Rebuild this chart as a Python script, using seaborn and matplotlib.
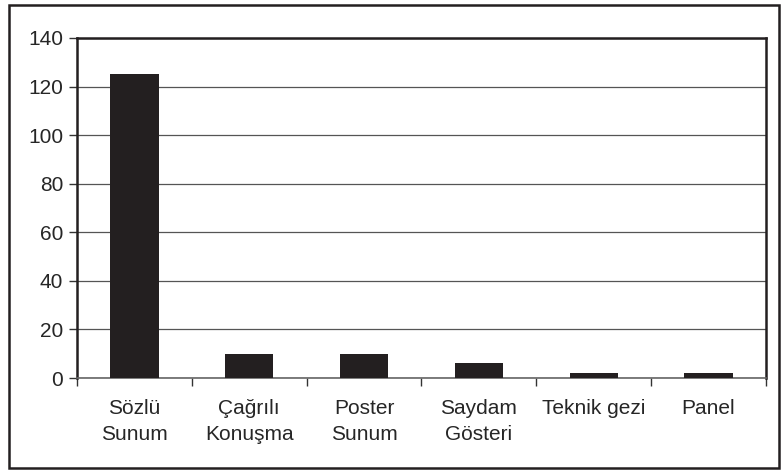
import pandas as pd
import matplotlib.pyplot as plt
import seaborn as sns
from matplotlib.patches import Rectangle

categories = ['Sözlü\nSunum', 'Çağrılı\nKonuşma', 'Poster\nSunum', 'Saydam\nGösteri', 'Teknik gezi', 'Panel']
counts = [125, 10, 10, 6, 2, 2]

df = pd.DataFrame({'category': categories, 'count': counts})

sns.set_style('white')
plt.rcParams['font.family'] = ['Liberation Sans', 'DejaVu Sans']

fig = plt.figure(figsize=(7.82, 4.73), dpi=100)
ax = fig.add_axes([0.0985, 0.2008, 0.881, 0.7189])

sns.barplot(data=df, x='category', y='count', color='#231f20', width=0.42,
            saturation=1, linewidth=0, ax=ax, zorder=3)

ax.set_ylim(0, 140)
ax.set_yticks(range(0, 141, 20))
ax.set_xlim(-0.5, len(categories) - 0.5)
ax.yaxis.grid(True, color='#555555', linewidth=0.9, zorder=0)
ax.set_xlabel('')
ax.set_ylabel('')

# ticks between categories
ax.set_xticks([i + 0.5 for i in range(-1, len(categories))], minor=True)
ax.tick_params(axis='x', which='minor', bottom=True, length=6, width=1, color='#333333', direction='out')
ax.tick_params(axis='x', which='major', bottom=True, length=0, labelsize=15, pad=15)
ax.tick_params(axis='y', left=True, length=6, width=1, color='#333333', direction='out', labelsize=15, pad=4)
for lbl in ax.get_xticklabels():
    lbl.set_linespacing(1.5)

for side in ['top', 'right', 'left']:
    ax.spines[side].set_color('#231f20')
    ax.spines[side].set_linewidth(1.8)
ax.spines['bottom'].set_color('#666666')
ax.spines['bottom'].set_linewidth(1.2)

fig.patches.append(Rectangle((0.011, 0.011), 0.985, 0.978, transform=fig.transFigure,
                             fill=False, edgecolor='#231f20', linewidth=1.8))

plt.savefig('out.png', dpi=100)
